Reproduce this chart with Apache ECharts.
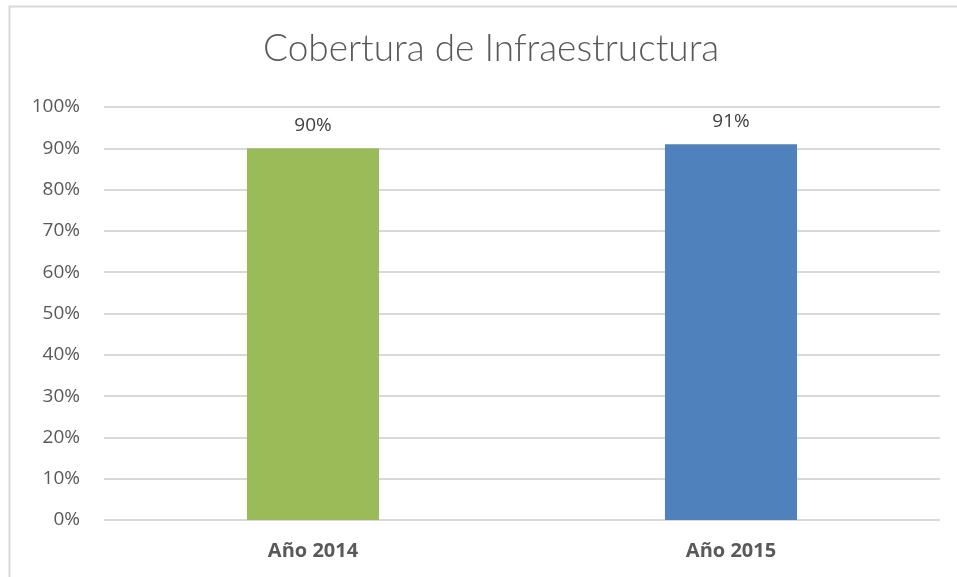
<!DOCTYPE html>
<html>
<head>
<meta charset="utf-8">
<script src="https://cdn.jsdelivr.net/npm/echarts@6/dist/echarts.min.js"></script>
<style>
  html, body { margin: 0; padding: 0; background: #fff; }
  #chart { width: 957px; height: 577px; }
</style>
</head>
<body>
<div id="chart"></div>
<script>
// datos del gráfico
const categorias = ['Año 2014', 'Año 2015']
const cobertura = [90, 91]
const colores = ['#9BBB59', '#4F81BD']

const myChart = echarts.init(document.getElementById('chart'))

const option = {
    animation: false,
    backgroundColor: '#fff',
    title: {
        text: 'Cobertura de Infraestructura',
        left: 258,
        top: 26,
        textStyle: {
            fontFamily: 'Lato',
            fontWeight: 300,
            fontSize: 37,
            color: '#595959'
        }
    },
    // marco del gráfico
    graphic: [{
        type: 'rect',
        shape: { x: 9.5, y: 6.5, width: 1000, height: 700 },
        style: { fill: 'none', stroke: '#d9d9d9', lineWidth: 2 },
        silent: true
    }],
    grid: { left: 104, right: 17, top: 107, bottom: 57 },
    xAxis: {
        type: 'category',
        data: categorias,
        axisLine: { show: false },
        axisTick: { show: false },
        axisLabel: {
            margin: 21,
            fontFamily: 'Open Sans',
            fontWeight: 'bold',
            fontSize: 20,
            color: '#595959'
        }
    },
    yAxis: {
        type: 'value',
        min: 0,
        max: 100,
        interval: 10,
        axisLine: { show: false },
        axisTick: { show: false },
        axisLabel: {
            margin: 24,
            formatter: '{value}%',
            fontFamily: 'Open Sans',
            fontSize: 19,
            color: '#595959'
        },
        splitLine: { lineStyle: { color: '#d9d9d9', width: 2 } }
    },
    series: [{
        type: 'bar',
        barWidth: '31.6%',
        data: cobertura.map((v, i) => ({ value: v, itemStyle: { color: colores[i] } })),
        label: {
            show: true,
            position: 'top',
            distance: 13,
            formatter: '{c}%',
            fontFamily: 'Open Sans',
            fontSize: 19,
            color: '#404040'
        }
    }]
}

myChart.setOption(option)
</script>
</body>
</html>
